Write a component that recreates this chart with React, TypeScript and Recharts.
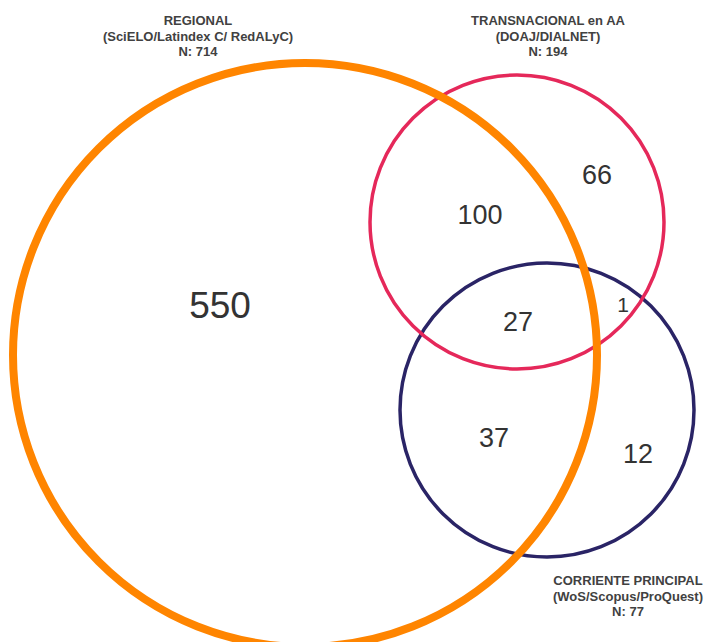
import { ScatterChart, Scatter, XAxis, YAxis, ZAxis } from 'recharts';

const W = 711;
const H = 642;

// sets (circles) of the diagram
const setNames = ['REGIONAL', 'TRANSNACIONAL en AA', 'CORRIENTE PRINCIPAL'];
const setSources = ['(SciELO/Latindex C/ RedALyC)', '(DOAJ/DIALNET)', '(WoS/Scopus/ProQuest)'];
const setTotals = [714, 194, 77];
const circleX = [305, 517, 547];
const circleY = [355, 222, 410];
const circleR = [292, 147, 147];
const titleX = [198, 548, 628];
const titleY = [25, 25, 585];

// counts per region of the diagram
const regionCounts = [550, 100, 66, 27, 1, 37, 12];
const regionX = [220, 480, 597, 518, 623, 494, 638];
const regionY = [318, 224, 184, 331, 312, 447, 463];

const colors = ['#FF8500', '#E5285A', '#2A2466'];
const strokes = [8, 3.5, 3.5];
const FONT = "'Liberation Sans', Arial, sans-serif";

const circles = circleX.map((x, i) => ({
  x,
  y: circleY[i],
  area: Math.PI * circleR[i] * circleR[i],
  set: i,
}));
const maxArea = Math.max(...circles.map(c => c.area));

const titles = setNames.map((name, i) => ({
  x: titleX[i],
  y: titleY[i],
  lines: [name, setSources[i], `N: ${setTotals[i]}`],
}));

const regions = regionCounts.map((count, i) => ({
  x: regionX[i],
  y: regionY[i],
  count,
}));

function CircleShape(props: any) {
  const { cx, cy, width, payload } = props;
  return (
    <circle
      cx={cx}
      cy={cy}
      r={width / 2}
      fill="none"
      stroke={colors[payload.set]}
      strokeWidth={strokes[payload.set]}
    />
  );
}

function TitleShape(props: any) {
  const { cx, cy, payload } = props;
  return (
    <text
      x={cx}
      y={cy}
      textAnchor="middle"
      fontFamily={FONT}
      fontSize={13}
      fontWeight="bold"
      fill="#414141"
    >
      {payload.lines.map((l: string, i: number) => (
        <tspan key={i} x={cx} dy={i === 0 ? 0 : 15.5}>{l}</tspan>
      ))}
    </text>
  );
}

function RegionShape(props: any) {
  const { cx, cy, payload } = props;
  const size = payload.count >= 500 ? 37 : payload.count < 10 ? 21 : 27;
  return (
    <text x={cx} y={cy} textAnchor="middle" fontFamily={FONT} fontSize={size} fill="#333333">
      {payload.count}
    </text>
  );
}

export default function App() {
  return (
    <div style={{ position: 'absolute', left: 0, top: 0, width: W, height: H, background: '#fff', overflow: 'hidden' }}>
      <ScatterChart width={W} height={H} margin={{ top: 0, right: 0, bottom: 0, left: 0 }}>
        <XAxis type="number" dataKey="x" domain={[0, W]} hide />
        <YAxis type="number" dataKey="y" domain={[0, H]} reversed hide />
        <ZAxis type="number" dataKey="area" domain={[0, maxArea]} range={[0, maxArea]} />
        <Scatter data={[circles[2]]} shape={CircleShape} isAnimationActive={false} />
        <Scatter data={[circles[1]]} shape={CircleShape} isAnimationActive={false} />
        <Scatter data={[circles[0]]} shape={CircleShape} isAnimationActive={false} />
        <Scatter data={titles} shape={TitleShape} isAnimationActive={false} />
        <Scatter data={regions} shape={RegionShape} isAnimationActive={false} />
      </ScatterChart>
    </div>
  );
}
